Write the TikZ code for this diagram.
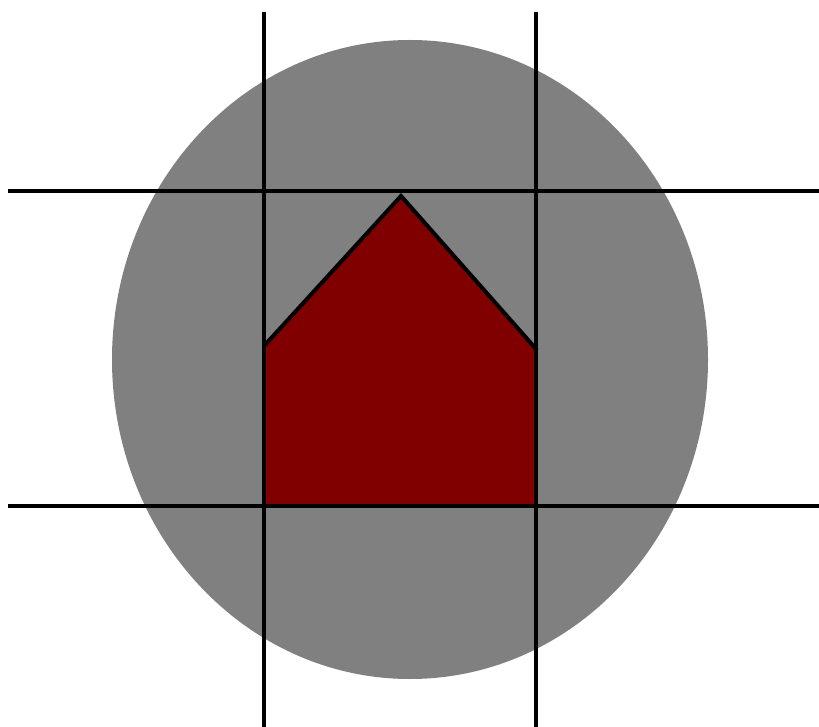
\documentclass[tikz,border=0pt]{standalone}
\begin{document}
\begin{tikzpicture}[x=1pt,y=-1pt,
  gridline/.style={line width=4.5pt,black},
  house/.style={fill={rgb,255:red,128;green,0;blue,0},draw=black,line width=4pt,line join=miter}]
\useasboundingbox (0,0) rectangle (819,727);
\fill[gray!100!black,fill={rgb,255:red,128;green,128;blue,128}] (410,359.5) ellipse [x radius=298, y radius=319.5];
\coordinate (p1) at (264,346);
\coordinate (p2) at (401,196);
\coordinate (p3) at (537,350);
\coordinate (p4) at (537,506);
\coordinate (p5) at (264,506);
\fill[fill={rgb,255:red,128;green,0;blue,0}] (p1) -- (p2) -- (p3) -- (p4) -- (p5) -- cycle;
\draw[line width=4pt,line join=miter] (p1) -- (p2) -- (p3);
\coordinate (v1t) at (264,12); \coordinate (v1b) at (264,727);
\coordinate (v2t) at (536,12); \coordinate (v2b) at (536,727);
\coordinate (h1l) at (8,191); \coordinate (h1r) at (819,191);
\coordinate (h2l) at (8,506); \coordinate (h2r) at (819,506);
\draw[gridline] (v1t) -- (v1b);
\draw[gridline] (v2t) -- (v2b);
\draw[gridline] (h1l) -- (h1r);
\draw[gridline] (h2l) -- (h2r);
\end{tikzpicture}
\end{document}
